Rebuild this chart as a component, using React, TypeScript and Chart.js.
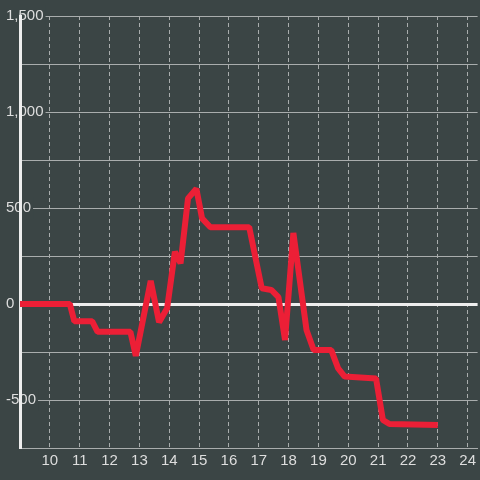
import React, { useEffect, useRef } from 'react';
import { Chart, registerables } from 'chart.js';

Chart.register(...registerables);

// Data (hour of day, value)
const hours = [9, 10.67, 10.82, 11.42, 11.6, 12.7, 12.88, 13.38, 13.66, 13.93, 14.19, 14.38, 14.63, 14.91, 15.1, 15.38, 16.68, 17.1, 17.42, 17.66, 17.88, 18.16, 18.6, 18.84, 19.43, 19.66, 19.88, 20.93, 21.16, 21.38, 23.0];
const values = [0, 0, -90, -90, -145, -145, -270, 120, -95, -22, 272, 212, 550, 600, 446, 400, 400, 82, 73, 36, -188, 370, -135, -240, -240, -335, -378, -388, -604, -625, -630];

const xTickValues = [10, 11, 12, 13, 14, 15, 16, 17, 18, 19, 20, 21, 22, 23, 24];
const yTickValues = [-500, -250, 0, 250, 500, 750, 1000, 1250, 1500];
const yLabelStep = 500;

const BG = '#3b4545';
const GRID = '#a9adad';
const AXIS = '#eeeeee';
const TEXT = '#dedede';
const RED = '#ec1f36';
const FONT = { family: "'Liberation Sans', Arial, sans-serif", size: 15 };

export default function App() {
  const ref = useRef<HTMLCanvasElement>(null);

  useEffect(() => {
    if (!ref.current) return;
    const chart = new Chart(ref.current, {
      type: 'line',
      data: {
        datasets: [
          {
            data: hours.map((h, i) => ({ x: h, y: values[i] })),
            borderColor: RED,
            borderWidth: 6,
            borderJoinStyle: 'bevel',
            pointRadius: 0,
            tension: 0,
            fill: false,
          },
        ],
      },
      options: {
        animation: false,
        responsive: false,
        layout: { padding: { top: 16, bottom: 6, left: 0, right: 0 } },
        plugins: { legend: { display: false }, tooltip: { enabled: false } },
        scales: {
          x: {
            type: 'linear',
            min: 9,
            max: 24.333,
            afterBuildTicks: (s: any) => {
              s.ticks = xTickValues.map((v) => ({ value: v }));
            },
            grid: { color: GRID, lineWidth: 1, drawTicks: false },
            border: { display: true, color: GRID, width: 1, dash: [4, 3] },
            ticks: {
              color: TEXT,
              font: FONT,
              padding: 4,
              maxRotation: 0,
              autoSkip: false,
              callback: (v: any) => String(v),
            },
          },
          y: {
            type: 'linear',
            min: -750,
            max: 1500,
            afterBuildTicks: (s: any) => {
              s.ticks = yTickValues.map((v) => ({ value: v }));
            },
            afterFit: (s: any) => {
              s.width = 20;
            },
            grid: {
              color: (ctx: any) => (ctx.tick && ctx.tick.value === 0 ? AXIS : GRID),
              lineWidth: (ctx: any) => (ctx.tick && ctx.tick.value === 0 ? 3 : 1),
              drawTicks: false,
            },
            border: { display: true, color: AXIS, width: 3 },
            ticks: {
              mirror: true,
              padding: -14,
              color: TEXT,
              font: FONT,
              showLabelBackdrop: true,
              backdropColor: BG,
              backdropPadding: 2,
              z: -0.5,
              autoSkip: false,
              callback: (v: any) =>
                Number(v) % yLabelStep === 0 ? Number(v).toLocaleString('en-US') : '',
            },
          },
        },
      },
    } as any);
    return () => chart.destroy();
  }, []);

  return (
    <div style={{ position: 'absolute', left: 0, top: 0, width: 480, height: 480, background: BG }}>
      <canvas ref={ref} width={480} height={480} style={{ display: 'block' }} />
    </div>
  );
}
